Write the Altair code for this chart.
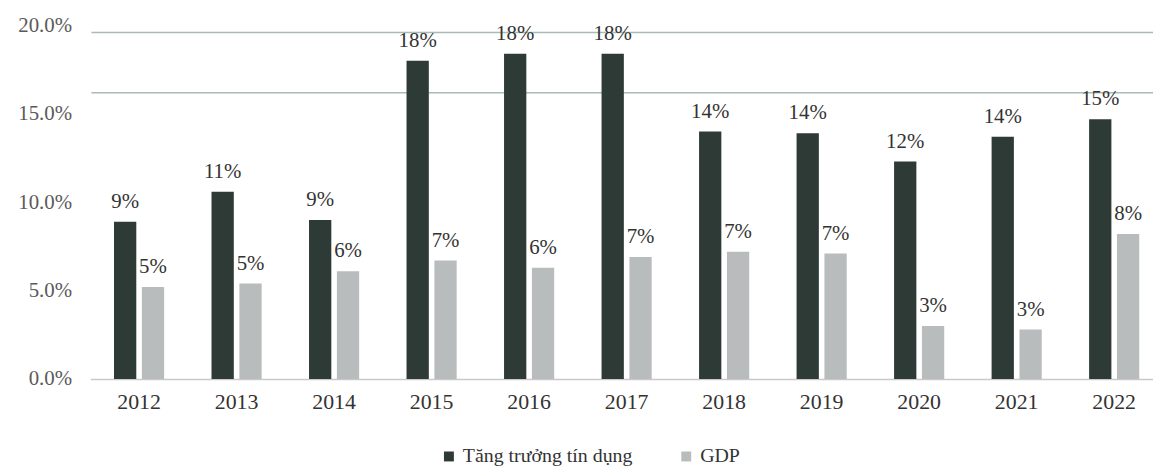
import altair as alt
import pandas as pd

years = ["2012", "2013", "2014", "2015", "2016", "2017", "2018", "2019", "2020", "2021", "2022"]
credit_growth = [8.9, 10.6, 9.0, 18.0, 18.4, 18.4, 14.0, 13.9, 12.3, 13.7, 14.7]
gdp_growth = [5.2, 5.4, 6.1, 6.7, 6.3, 6.9, 7.2, 7.1, 3.0, 2.8, 8.2]
series_names = ["Tăng trưởng tín dụng", "GDP"]
series_colors = ["#2e3a35", "#b9bcbd"]
y_ticks = [0, 5, 10, 15, 20]
guide_levels = [16.2, 19.6]

rows = []
for i, y in enumerate(years):
    rows.append({"year": y, "series": series_names[0], "value": credit_growth[i]})
    rows.append({"year": y, "series": series_names[1], "value": gdp_growth[i]})
df = pd.DataFrame(rows)
grid_df = pd.DataFrame({"level": guide_levels})

FONT = "Liberation Serif"
PLOT_W = 1069
PLOT_H = 356

x_enc = alt.X(
    "year:N",
    sort=years,
    scale=alt.Scale(range=[-1.1, 1079], paddingInner=0, paddingOuter=0),
    axis=alt.Axis(
        title=None,
        labelAngle=0,
        labelFont=FONT,
        labelFontSize=22,
        labelColor="#333333",
        labelPadding=13,
        ticks=False,
        domainColor="#c9c9c9",
        domainWidth=1.5,
    ),
)
xoff_enc = alt.XOffset(
    "series:N",
    sort=series_names,
    scale=alt.Scale(domain=series_names, paddingInner=0.2, paddingOuter=0.85),
)
y_scale = alt.Scale(domain=[0, 20], nice=False)

bars = alt.Chart(df).mark_bar().encode(
    x=x_enc,
    xOffset=xoff_enc,
    y=alt.Y(
        "value:Q",
        scale=y_scale,
        axis=alt.Axis(
            title=None,
            values=y_ticks,
            labelExpr="format(datum.value, '.1f') + '%'",
            labelFont=FONT,
            labelFontSize=21,
            labelColor="#5a5a5a",
            labelPadding=20,
            ticks=False,
            domain=False,
            grid=False,
        ),
    ),
    color=alt.Color(
        "series:N",
        sort=series_names,
        scale=alt.Scale(domain=series_names, range=series_colors),
        legend=alt.Legend(
            title=None,
            orient="none",
            direction="horizontal",
            legendX=350,
            legendY=424,
            symbolType="square",
            symbolSize=100,
            symbolStrokeWidth=0,
            labelFont=FONT,
            labelFontSize=20,
            labelColor="#333333",
            labelOffset=4,
            labelLimit=0,
            columnPadding=44,
        ),
    ),
)

labels = alt.Chart(df).transform_calculate(
    label="format(datum.value, '.0f') + '%'"
).mark_text(
    baseline="alphabetic", dy=-14, font=FONT, fontSize=21, color="#333333"
).encode(
    x=alt.X("year:N", sort=years),
    xOffset=alt.XOffset("series:N", sort=series_names),
    y=alt.Y("value:Q", scale=y_scale),
    text="label:N",
)

grid = alt.Chart(grid_df).mark_rule(color="#a8bcb7", strokeWidth=1.5).encode(
    y=alt.Y("level:Q", scale=y_scale)
)

chart = alt.layer(grid, bars, labels).properties(
    width=PLOT_W,
    height=PLOT_H,
    autosize=alt.AutoSizeParams(type="none"),
    padding={"left": 84, "top": 16, "right": 0, "bottom": 86},
).configure_view(stroke=None)

chart.save("out.html", embed_options={"renderer": "svg", "actions": False})
